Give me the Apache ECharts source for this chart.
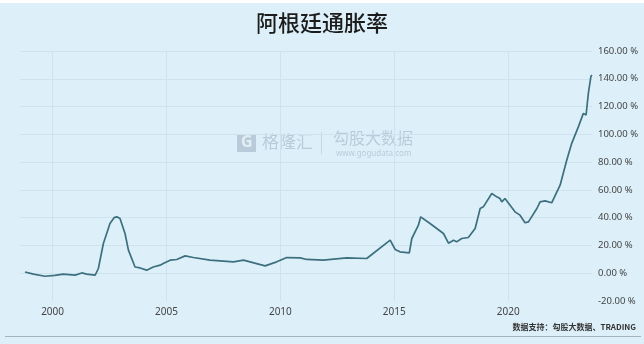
<!DOCTYPE html>
<html>
<head>
<meta charset="utf-8">
<script src="https://cdn.jsdelivr.net/npm/echarts@6/dist/echarts.min.js"></script>
<style>
html,body{margin:0;padding:0;background:#ddf0fa;}
#c{width:644px;height:344px;}
</style>
</head>
<body>
<div id="c"></div>
<script>
// Time (decimal years) and inflation values (%)
var years = [1998.79,1999.16,1999.67,2000.1,2000.47,2000.99,2001.28,2001.5,2001.87,2002.01,2002.23,2002.52,2002.7,2002.82,2002.96,2003.18,2003.33,2003.62,2003.84,2004.13,2004.42,2004.72,2004.86,2005.16,2005.45,2005.82,2006.18,2006.91,2007.94,2008.38,2008.67,2009.33,2009.84,2010.28,2010.87,2011.16,2011.89,2012.91,2013.79,2014.82,2015.04,2015.25,2015.66,2015.77,2016.06,2016.16,2016.57,2017.16,2017.38,2017.6,2017.74,2017.96,2018.25,2018.55,2018.77,2018.91,2019.28,2019.5,2019.64,2019.72,2019.86,2020.3,2020.52,2020.74,2020.89,2021.26,2021.4,2021.62,2021.91,2022.28,2022.57,2022.79,2023.08,2023.3,2023.42,2023.52,2023.63,2023.67];
var inflation = [0.9,-0.7,-2.2,-1.5,-0.7,-1.4,0.2,-0.7,-1.4,3.4,21.4,35.8,40.0,40.6,39.4,28.6,16.6,4.5,3.8,2.2,4.5,5.8,7.0,9.4,9.9,12.5,11.3,9.4,8.2,9.4,8.2,5.3,8.2,11.3,11.0,9.9,9.4,11.0,10.6,23.8,17.1,15.4,14.6,25.0,34.6,40.6,35.8,28.6,21.6,23.8,22.6,25.0,25.7,32.2,46.6,47.8,57.4,55.0,53.8,51.4,53.8,44.2,41.8,36.3,37.0,46.6,51.4,52.1,50.7,63.4,81.4,93.5,105.4,115.1,113.9,129.5,141.5,142.7];
var yearTicks = [2000,2005,2010,2015,2020];
var title = '阿根廷通胀率';
var source = '数据支持：勾股大数据、TRADING';

var pts = years.map(function(y,i){return [y, inflation[i]];});
var grid = '#cfe3ee';
var chart = echarts.init(document.getElementById('c'));
chart.setOption({
  backgroundColor: '#ddf0fa',
  animation: false,
  title: {
    text: title, left: 'center', top: 7,
    textStyle: {fontFamily: 'Noto Sans CJK SC', fontSize: 22, fontWeight: 500, color: '#1c1c1c'}
  },
  grid: {left: 20, right: 52, top: 51, bottom: 43},
  xAxis: {
    type: 'value', min: 1998.57, max: 2023.68,
    axisLine: {show: false},
    axisTick: {show: false, customValues: yearTicks},
    axisLabel: {customValues: yearTicks, formatter: function(v){return String(v);}, color: '#444', fontSize: 10, fontFamily: 'Noto Sans', margin: 6},
    splitLine: {show: true, lineStyle: {color: grid, width: 1}}
  },
  yAxis: {
    type: 'value', position: 'right', min: -20, max: 160, interval: 20,
    axisLine: {show: false}, axisTick: {show: false},
    axisLabel: {formatter: function(v){return v.toFixed(2) + ' %';}, color: '#444', fontSize: 9.5, fontFamily: 'Noto Sans', margin: 6},
    splitLine: {lineStyle: {color: ['transparent',grid,grid,grid,grid,grid,grid,grid,grid,grid], width: 1}}
  },
  series: [{
    type: 'line', data: pts, showSymbol: false, smooth: false,
    lineStyle: {color: '#3d6f7f', width: 1.7}
  }],
  graphic: [
    {type: 'rect', left: 0, top: 0, shape: {width: 644, height: 3}, style: {fill: '#ffffff'}},
    {type: 'rect', left: 237, top: 134, shape: {width: 19, height: 18}, style: {fill: '#b9cbd8'}},
    {type: 'text', left: 241, top: 134, style: {text: 'G', fill: '#e3eef5', font: 'bold 16px Noto Sans'}},
    {type: 'text', left: 262, top: 133, style: {text: '格隆汇', fill: '#b9cbd8', font: '17px Noto Sans CJK SC'}},
    {type: 'rect', left: 321, top: 132, shape: {width: 1, height: 22}, style: {fill: '#c8d8e2'}},
    {type: 'text', left: 333, top: 130, style: {text: '勾股大数据', fill: '#b9cbd8', font: '16px Noto Sans CJK SC'}},
    {type: 'text', left: 336, top: 150, style: {text: 'www.gogudata.com', fill: '#b9cbd8', font: '8px Noto Sans', letterSpacing: 1.2}},
    {type: 'text', right: 8, top: 323, style: {text: source, fill: '#333', font: 'bold 8px Noto Sans CJK SC'}},
    {type: 'rect', left: 5, top: 336, shape: {width: 636, height: 1}, style: {fill: '#a5b3bb'}}
  ]
});
</script>
</body>
</html>
